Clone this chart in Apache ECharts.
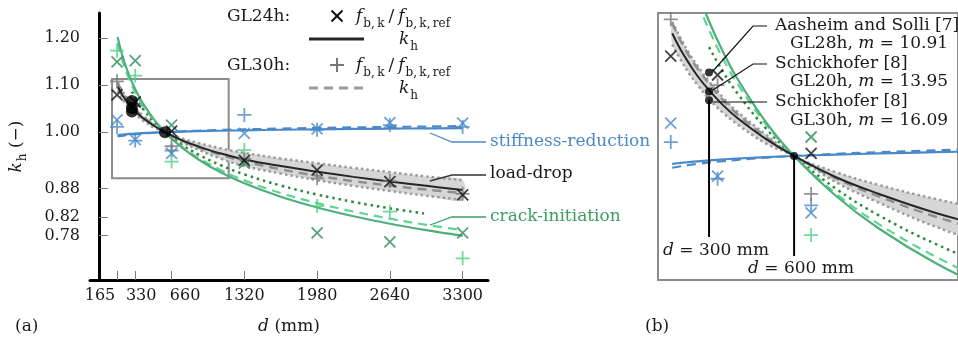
<!DOCTYPE html>
<html>
<head>
<meta charset="utf-8">
<script src="https://cdn.jsdelivr.net/npm/echarts/dist/echarts.min.js"></script>
<style>
  html, body { margin: 0; padding: 0; background: #fff; }
  #chart { width: 958px; height: 342px; }
</style>
</head>
<body>
<div id="chart"></div>
<script>
// fitted curves k_h(d)
const dCurve = [170, 200, 230, 260, 300, 350, 400, 500, 600, 750, 900, 1100, 1320, 1650, 1980, 2310, 2640, 2970, 3300];
const kLoadGL24 = [1.097, 1.084, 1.073, 1.063, 1.052, 1.040, 1.030, 1.0135, 1.000, 0.983, 0.970, 0.955, 0.942, 0.928, 0.916, 0.905, 0.895, 0.886, 0.877];
const kLoadGL30 = [1.105, 1.091, 1.079, 1.069, 1.057, 1.044, 1.033, 1.015, 1.000, 0.982, 0.968, 0.952, 0.938, 0.921, 0.9075, 0.896, 0.8865, 0.878, 0.8706];
const bandHigh = [1.106, 1.093, 1.081, 1.071, 1.059, 1.046, 1.035, 1.017, 1.000, 0.987, 0.977, 0.966, 0.956, 0.944, 0.934, 0.924, 0.915, 0.906, 0.898];
const bandLow = [1.088, 1.076, 1.065, 1.056, 1.045, 1.034, 1.025, 1.010, 1.000, 0.979, 0.963, 0.944, 0.928, 0.912, 0.898, 0.886, 0.875, 0.865, 0.856];
const kStiffGL24 = [0.9937, 0.9945, 0.9952, 0.9958, 0.9965, 0.9973, 0.998, 0.9991, 1.000, 1.0011, 1.002, 1.003, 1.0039, 1.0051, 1.006, 1.0068, 1.0074, 1.008, 1.0086];
const kStiffGL30 = [0.9907, 0.9919, 0.9929, 0.9938, 0.9949, 0.996, 0.997, 0.9987, 1.000, 1.0017, 1.003, 1.0045, 1.0059, 1.0075, 1.0089, 1.010, 1.011, 1.0119, 1.0127];
const kCrackGL24 = [1.202, 1.174, 1.150, 1.130, 1.1065, 1.082, 1.061, 1.027, 1.000, 0.968, 0.9425, 0.9153, 0.8913, 0.8627, 0.840, 0.8214, 0.8055, 0.7918, 0.7797];
const kCrackGL30 = [1.1886, 1.1624, 1.1404, 1.1213, 1.0996, 1.0766, 1.0571, 1.0253, 1.000, 0.9699, 0.946, 0.9203, 0.8976, 0.8706, 0.8492, 0.8314, 0.8163, 0.8032, 0.7918];
const dDotted = [300, 350, 400, 500, 600, 750, 900, 1100, 1320, 1650, 1980, 2310, 2640, 2950];
const kCrackDotted = [1.086, 1.0663, 1.0495, 1.0219, 1.000, 0.9738, 0.9529, 0.9304, 0.9104, 0.8866, 0.8675, 0.8517, 0.8383, 0.8273];

// test results f_b,k / f_b,k,ref
const dTest = [165, 330, 660, 1320, 1980, 2640, 3300];
const fLoadGL24 = [1.079, 1.064, 1.002, 0.940, 0.9195, 0.895, 0.867];
const fLoadGL30 = [1.108, 1.056, 0.970, 0.942, 0.902, 0.896, 0.869];
const fStiffGL24 = [1.026, 0.984, 0.955, 0.9975, 1.007, 1.020, 1.019];
const fStiffGL30 = [1.011, 0.982, 0.961, 1.0365, 1.005, 1.015, 1.011];
const fCrackGL24 = [1.149, 1.152, 1.015, 0.934, 0.786, 0.767, 0.786];
const fCrackGL30 = [1.173, 1.120, 0.9375, 0.962, 0.843, 0.831, 0.732];

// literature reference points (d, k_h)
const refD = [300, 300, 300, 600];
const refK = [1.066, 1.051, 1.044, 1.000];
const guideD = [300, 600];
const guideTop = [1.044, 1.000];
const guideBottom = [0.936, 0.921];

// axes
const xTicks = [165, 330, 660, 1320, 1980, 2640, 3300];
const yTicks = [0.78, 0.82, 0.88, 1.00, 1.10, 1.20];
const xRange = [-80, 3530];
const yRange = [0.686, 1.253];
const zoomX = [120, 1178];
const zoomY = [0.902, 1.113];

const FONT = 'DejaVu Serif';
const FS = 17;
const TXT = '#1a1a1a';
const BLUE = '#4a89c9';
const DKGREEN = '#2e8b57';
const LTGREEN = '#4fd07f';
const GREEN = '#4fae7c';
const DOTGREEN = '#2a8a3a';
const BLACK = '#262626';
const BOX = '#8c8c8c';

const CROSS = 'path://M0,0L10,10M10,0L0,10';
const PLUS = 'path://M5,0L5,10M0,5L10,5';

const RICH = {
  it: { fontFamily: FONT, fontSize: FS, fontStyle: 'italic' },
  i: { fontFamily: FONT, fontSize: FS, fontStyle: 'italic', verticalAlign: 'bottom', padding: [0, 1, 4, 0] },
  n: { fontFamily: FONT, fontSize: FS, verticalAlign: 'bottom', padding: [0, 0, 4, 0] },
  sl: { fontFamily: FONT, fontSize: FS, verticalAlign: 'bottom', padding: [0, 4, 4, 4] },
  s: { fontFamily: FONT, fontSize: 12, verticalAlign: 'bottom' }
};

function pts(xs, ys) {
  return xs.map((x, i) => [x, ys[i]]);
}

function buildSeries(ai, dotSize) {
  const ax = { xAxisIndex: ai, yAxisIndex: ai };
  const curve = (xs, ys, color, width, type, z) => Object.assign({
    type: 'line', data: pts(xs, ys), smooth: 0.4,
    symbol: 'none', silent: true, z: z,
    lineStyle: { color: color, width: width, type: type }
  }, ax);
  const marks = (ys, shape, color, size) => Object.assign({
    type: 'scatter', data: pts(dTest, ys), symbol: shape, symbolSize: size,
    silent: true, z: 6,
    itemStyle: { color: color, borderColor: color, borderWidth: 1.8 }
  }, ax);

  // grey scatter band of the load-drop fit
  const band = Object.assign({
    type: 'custom', silent: true, z: 1,
    data: [[dCurve[0], bandLow[0]]],
    renderItem: function (params, api) {
      const up = dCurve.map((d, i) => api.coord([d, bandHigh[i]]));
      const lo = dCurve.map((d, i) => api.coord([d, bandLow[i]])).reverse();
      const cs = params.coordSys;
      return {
        type: 'polygon',
        shape: { points: up.concat(lo), smooth: 0.3 },
        style: { fill: '#d6d6d6' },
        clipPath: { type: 'rect', shape: { x: cs.x, y: cs.y, width: cs.width, height: cs.height } }
      };
    }
  }, ax);

  const black = curve(dCurve, kLoadGL24, BLACK, 2, 'solid', 4);
  if (ai === 0) {
    black.markArea = {
      silent: true,
      itemStyle: { color: 'rgba(0,0,0,0)', borderColor: BOX, borderWidth: 2 },
      data: [[{ coord: [zoomX[0], zoomY[0]] }, { coord: [zoomX[1], zoomY[1]] }]]
    };
  }

  const list = [
    band,
    curve(dCurve, bandHigh, '#9c9c9c', 2.5, [2.5, 3], 2),
    curve(dCurve, bandLow, '#9c9c9c', 2.5, [2.5, 3], 2),
    curve(dCurve, kStiffGL30, BLUE, 2.2, [9, 6], 3),
    curve(dCurve, kStiffGL24, BLUE, 2.2, 'solid', 3),
    curve(dDotted, kCrackDotted, DOTGREEN, 2.5, [2.5, 4], 3),
    curve(dCurve, kCrackGL30, '#5fd493', 2.2, [9, 6], 3),
    curve(dCurve, kCrackGL24, GREEN, 2.2, 'solid', 3),
    curve(dCurve, kLoadGL30, '#8f8f8f', 2.5, [9, 6], 4),
    black,
    marks(fStiffGL30, PLUS, BLUE, 14),
    marks(fStiffGL24, CROSS, BLUE, 11),
    marks(fCrackGL30, PLUS, LTGREEN, 14),
    marks(fCrackGL24, CROSS, DKGREEN, 11),
    marks(fLoadGL30, PLUS, '#777777', 14),
    marks(fLoadGL24, CROSS, '#111111', 11)
  ];
  if (ai === 1) {
    guideD.forEach((d, i) => {
      list.push(Object.assign({
        type: 'line', data: [[d, guideTop[i]], [d, guideBottom[i]]], symbol: 'none',
        silent: true, z: 5, lineStyle: { color: '#000', width: 2 }
      }, ax));
    });
  }
  list.push(Object.assign({
    type: 'scatter', data: pts(refD, refK), symbol: 'circle', symbolSize: dotSize,
    silent: true, z: 7, itemStyle: { color: '#000' }
  }, ax));
  return list;
}

function txt(x, y, text, fill) {
  return {
    type: 'text', x: x, y: y, z: 100, silent: true,
    style: {
      text: text, fill: fill || TXT, fontFamily: FONT, fontSize: FS,
      align: 'left', verticalAlign: 'middle', rich: RICH
    }
  };
}
function seg(points, stroke, width, dash) {
  return {
    type: 'polyline', z: 100, silent: true, shape: { points: points },
    style: { stroke: stroke, lineWidth: width, lineDash: dash || null, fill: null }
  };
}

const fRatio = '{i|f}{s|b,\u2009k}{sl|/}{i|f}{s|b,\u2009k,\u2009ref}';
const graphic = [
  // legend
  txt(227, 17, 'GL24h:'),
  seg([[331.5, 10.5], [342.5, 21.5]], '#111', 2),
  seg([[331.5, 21.5], [342.5, 10.5]], '#111', 2),
  txt(356, 19, fRatio),
  seg([[309, 39], [364, 39]], BLACK, 3),
  txt(399, 42, '{i|k}{s|h}'),
  txt(227, 66, 'GL30h:'),
  seg([[330, 65], [344, 65]], '#777', 2),
  seg([[337, 58], [337, 72]], '#777', 2),
  txt(356, 68, fRatio),
  seg([[309, 88], [364, 88]], '#999', 3, [9, 6]),
  txt(399, 91, '{i|k}{s|h}'),
  // annotations panel (a)
  seg([[430, 133], [452, 142], [486, 142]], BLUE, 1.3),
  txt(490, 142, 'stiffness-reduction', BLUE),
  seg([[430, 181], [452, 175], [486, 175]], '#333', 1.3),
  txt(490, 174, 'load-drop'),
  seg([[430, 225], [452, 217], [486, 217]], '#3c9d62', 1.3),
  txt(490, 217, 'crack-initiation', '#3c9d62'),
  txt(15, 327, '(a)'),
  txt(645, 327, '(b)'),
  // annotations panel (b)
  seg([[713, 71], [753, 26], [767, 26]], '#111', 1.2),
  txt(775, 26, 'Aasheim and Solli [7]'),
  txt(790, 44, 'GL28h, {it|m} = 10.91'),
  seg([[713, 90], [753, 64], [767, 64]], '#111', 1.2),
  txt(775, 64, 'Schickhofer [8]'),
  txt(790, 82, 'GL20h, {it|m} = 13.95'),
  seg([[713, 102], [767, 102]], '#111', 1.2),
  txt(775, 102, 'Schickhofer [8]'),
  txt(790, 121, 'GL30h, {it|m} = 16.09'),
  txt(663, 251, '{it|d} = 300 mm'),
  txt(748, 269, '{it|d} = 600 mm')
];

const chart = echarts.init(document.getElementById('chart'));
chart.setOption({
  animation: false,
  backgroundColor: '#ffffff',
  textStyle: { fontFamily: FONT },
  grid: [
    { left: 90, top: 13, width: 398, height: 267 },
    { left: 658, top: 13, width: 314, height: 267, show: true, borderColor: BOX, borderWidth: 2, backgroundColor: 'rgba(0,0,0,0)' }
  ],
  xAxis: [
    {
      gridIndex: 0, type: 'value', min: xRange[0], max: xRange[1],
      axisLine: { lineStyle: { color: '#000', width: 3 } },
      axisTick: { inside: true, length: 9, customValues: xTicks, lineStyle: { color: '#777', width: 1 } },
      axisLabel: {
        customValues: xTicks, margin: 8, color: TXT, fontFamily: FONT, fontSize: 16,
        formatter: function (v) {
          if (v === 165) return '{L|165}';
          if (v === 330) return '{R1|330}';
          if (v === 660) return '{R2|660}';
          return String(v);
        },
        rich: {
          L: { fontFamily: FONT, fontSize: 16, padding: [0, 34, 0, 0] },
          R1: { fontFamily: FONT, fontSize: 16, padding: [0, 0, 0, 12] },
          R2: { fontFamily: FONT, fontSize: 16, padding: [0, 0, 0, 27] }
        }
      },
      splitLine: { show: false },
      name: '{it|d} (mm)', nameLocation: 'middle', nameGap: 38,
      nameTextStyle: { color: TXT, fontFamily: FONT, fontSize: FS, rich: RICH }
    },
    { gridIndex: 1, type: 'value', min: zoomX[0], max: zoomX[1], show: false }
  ],
  yAxis: [
    {
      gridIndex: 0, type: 'value', min: yRange[0], max: yRange[1],
      axisLine: { show: true, lineStyle: { color: '#000', width: 3 } },
      axisTick: { show: true, inside: true, length: 9, customValues: yTicks, lineStyle: { color: '#777', width: 1 } },
      axisLabel: {
        customValues: yTicks, margin: 10, color: TXT, fontFamily: FONT, fontSize: 16,
        formatter: (v) => v.toFixed(2)
      },
      splitLine: { show: false },
      name: '{i|k}{s|h}{n| (−)}', nameLocation: 'middle', nameGap: 61, nameRotate: 90,
      nameTextStyle: { color: TXT, fontFamily: FONT, fontSize: FS, rich: RICH }
    },
    { gridIndex: 1, type: 'value', min: zoomY[0], max: zoomY[1], show: false }
  ],
  series: buildSeries(0, 12).concat(buildSeries(1, 8)),
  graphic: graphic
});
</script>
</body>
</html>
